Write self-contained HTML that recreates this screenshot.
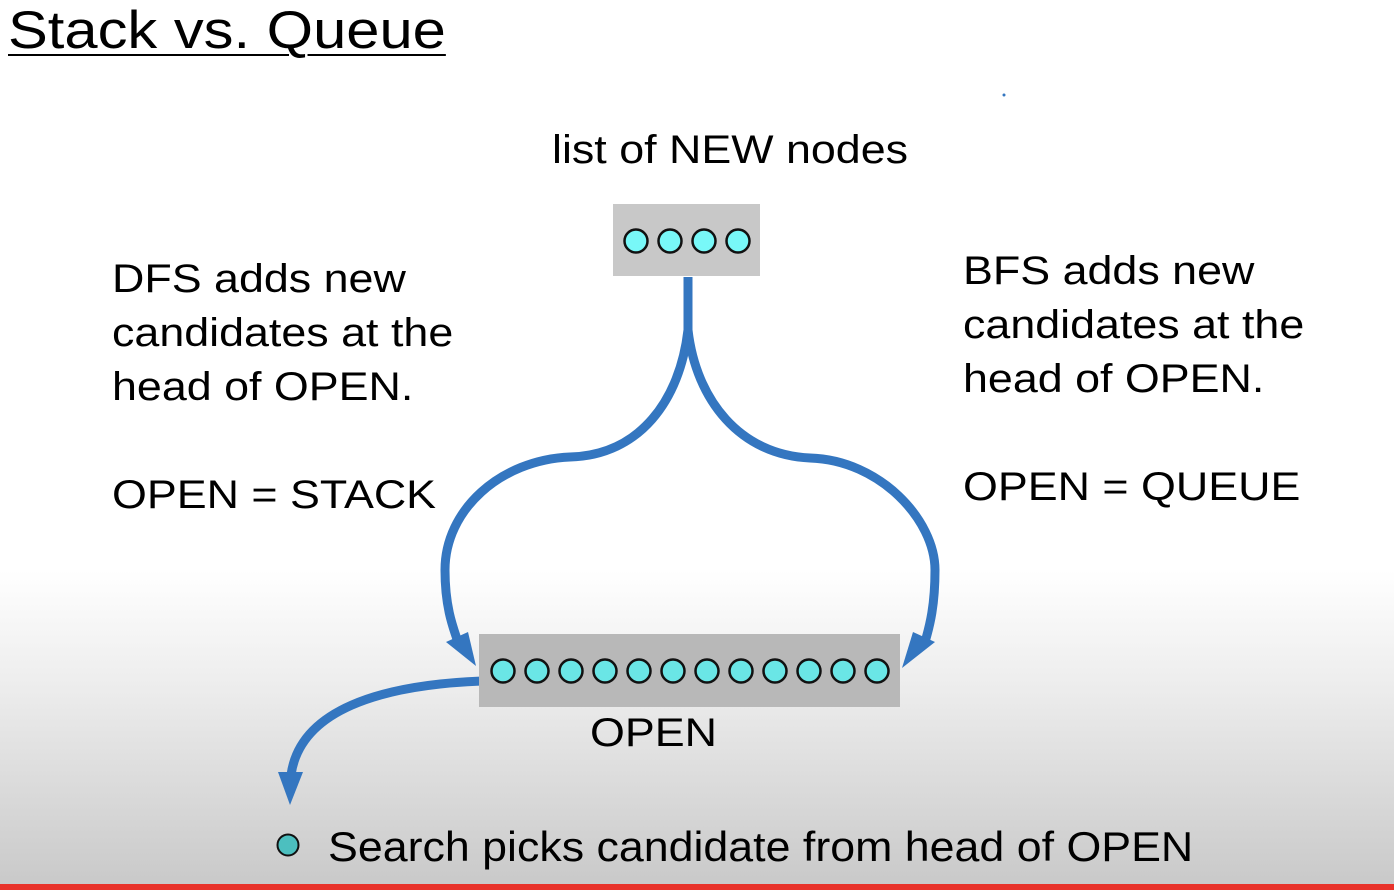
<!DOCTYPE html>
<html><head><style>
body{margin:0;width:1394px;height:890px;overflow:hidden;font-family:"Liberation Sans",sans-serif;color:#000;
background:linear-gradient(to bottom,#fff 0px,#fff 570px,#ececec 690px,#c9c9c9 885px);position:relative}
.t{position:absolute;white-space:nowrap;line-height:1;transform-origin:0 0;transform:scaleX(1.12)}
.red{position:absolute;left:0;top:884px;width:1394px;height:6px;background:#e8322a}
</style></head><body>
<div class="t" style="left:8px;top:4px;font-size:53px;text-decoration:underline;text-decoration-thickness:2px;text-underline-offset:6px;transform:scaleX(1.126)">Stack vs. Queue</div>
<div class="t" style="left:552px;top:130px;font-size:40px">list of NEW nodes</div>
<div class="t" style="left:112px;top:252px;font-size:40px;line-height:54px">DFS adds new<br>candidates at the<br>head of OPEN.<br><br>OPEN = STACK</div>
<div class="t" style="left:963px;top:244px;font-size:40px;line-height:54px">BFS adds new<br>candidates at the<br>head of OPEN.<br><br>OPEN = QUEUE</div>
<div class="t" style="left:590px;top:713px;font-size:40px">OPEN</div>
<div class="t" style="left:328px;top:826px;font-size:42px;transform:scaleX(1.065)">Search picks candidate from head of OPEN</div>
<svg width="1394" height="890" style="position:absolute;left:0;top:0">
<rect x="613" y="204" width="147" height="72" fill="#c8c8c8"/>
<g fill="#78f8f8" stroke="#111" stroke-width="2.5">
<circle cx="636" cy="241" r="11.5"/><circle cx="670" cy="241" r="11.5"/><circle cx="704" cy="241" r="11.5"/><circle cx="738" cy="241" r="11.5"/>
</g>
<g fill="none" stroke="#3476c0" stroke-width="9">
<path d="M688,277 L688,330 C680,400 640,455 570,457 C500,460 445,510 445,570 C445,605 452,625 458,642"/>
<path d="M688,277 L688,330 C696,400 740,455 810,458 C880,460 935,520 935,570 C935,605 930,625 925,642"/>
<path d="M482,681 C380,685 300,710 291,775"/>
</g>
<g fill="#3476c0">
<polygon points="446,642 476,666 468,632"/>
<polygon points="935,642 902,668 913,632"/>
<polygon points="278,772 303,772 290,805"/>
</g>
<rect x="479" y="634" width="421" height="73" fill="#b8b8b8"/>
<g fill="#6ae6e6" stroke="#111" stroke-width="2.5">
<circle cx="503" cy="671" r="11.5"/><circle cx="537" cy="671" r="11.5"/><circle cx="571" cy="671" r="11.5"/><circle cx="605" cy="671" r="11.5"/><circle cx="639" cy="671" r="11.5"/><circle cx="673" cy="671" r="11.5"/><circle cx="707" cy="671" r="11.5"/><circle cx="741" cy="671" r="11.5"/><circle cx="775" cy="671" r="11.5"/><circle cx="809" cy="671" r="11.5"/><circle cx="843" cy="671" r="11.5"/><circle cx="877" cy="671" r="11.5"/>
</g>
<circle cx="288" cy="845" r="10.5" fill="#4cbfbf" stroke="#111" stroke-width="2"/>
<circle cx="1004" cy="95" r="1.5" fill="#3476c0"/>
</svg>
<div class="red"></div>
</body></html>
